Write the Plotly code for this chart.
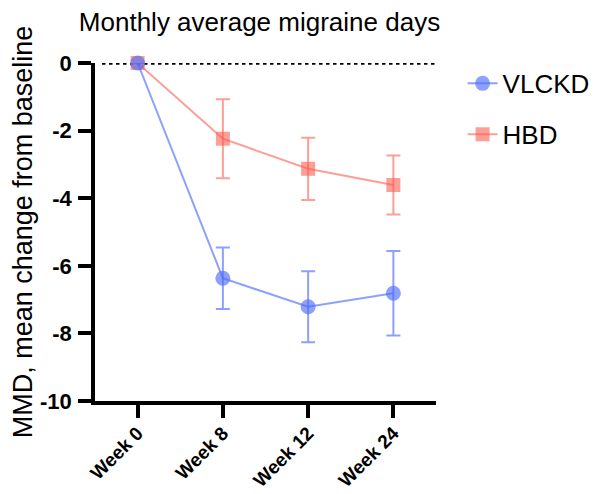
import plotly.graph_objects as go

categories = ["Week 0", "Week 8", "Week 12", "Week 24"]
vlckd_mean = [0, -6.37, -7.21, -6.81]
vlckd_err = [0, 0.91, 1.05, 1.25]
hbd_mean = [0, -2.24, -3.13, -3.61]
hbd_err = [0, 1.17, 0.92, 0.87]
y_ticks = [0, -2, -4, -6, -8, -10]

blue = "rgba(80,110,250,0.65)"
red = "rgba(250,95,80,0.6)"
FONT = "Liberation Sans, Arial, Helvetica, sans-serif"

x_pos = list(range(len(categories)))

fig = go.Figure()
fig.add_trace(go.Scatter(
    x=x_pos, y=hbd_mean, name="HBD", mode="lines+markers",
    line=dict(color=red, width=2),
    marker=dict(symbol="square", size=14, color=red),
    error_y=dict(type="data", array=hbd_err, visible=True, color=red, thickness=2, width=7),
    legendgroup="b", legendrank=2, cliponaxis=False,
))
fig.add_trace(go.Scatter(
    x=x_pos, y=vlckd_mean, name="VLCKD", mode="lines+markers",
    line=dict(color=blue, width=2),
    marker=dict(symbol="circle", size=15, color=blue),
    error_y=dict(type="data", array=vlckd_err, visible=True, color=blue, thickness=2, width=7),
    legendgroup="a", legendrank=1, cliponaxis=False,
))

fig.add_shape(type="line", xref="x", yref="y", x0=-0.418, x1=3.5, y0=0, y1=0,
              line=dict(color="black", width=3.5, dash="3.5px,3.5px"), layer="below")

fig.update_layout(
    width=589, height=486,
    margin=dict(l=87, r=161, t=55, b=93, autoexpand=False),
    paper_bgcolor="white", plot_bgcolor="white",
    font=dict(family=FONT, color="black"),
    title=dict(text="Monthly average migraine days", font=dict(size=26, family=FONT, color="black"),
               x=251.5 / 589, xanchor="center", y=1 - 14 / 486, yanchor="middle"),
    showlegend=True,
    legend=dict(x=1.078, xanchor="left", y=1.009, yanchor="top",
                font=dict(size=26, family=FONT), traceorder="grouped",
                tracegroupgap=14, bgcolor="rgba(0,0,0,0)"),
    xaxis=dict(range=[-0.5, 3.5], tickmode="array", tickvals=x_pos, ticktext=categories,
               tickangle=-45, showgrid=False, zeroline=False, showline=True, automargin=False,
               ticklabelstandoff=-3,
               linecolor="black", linewidth=3.5, ticks="outside", ticklen=13, tickwidth=3.5,
               tickcolor="black", tickfont=dict(size=19, family=FONT, weight="bold")),
    yaxis=dict(range=[-10, 0], tickmode="array", tickvals=y_ticks, automargin=False,
               ticktext=[str(v) for v in y_ticks], ticklabelstandoff=2,
               showgrid=False, zeroline=False, showline=True, linecolor="black", linewidth=3.5,
               ticks="outside", ticklen=13, tickwidth=3.5, tickcolor="black",
               tickfont=dict(size=22, family=FONT, weight="bold"),
               title=dict(text="MMD, mean change from baseline", standoff=2,
                          font=dict(size=27, family=FONT))),
)

fig.write_html("out.html")
